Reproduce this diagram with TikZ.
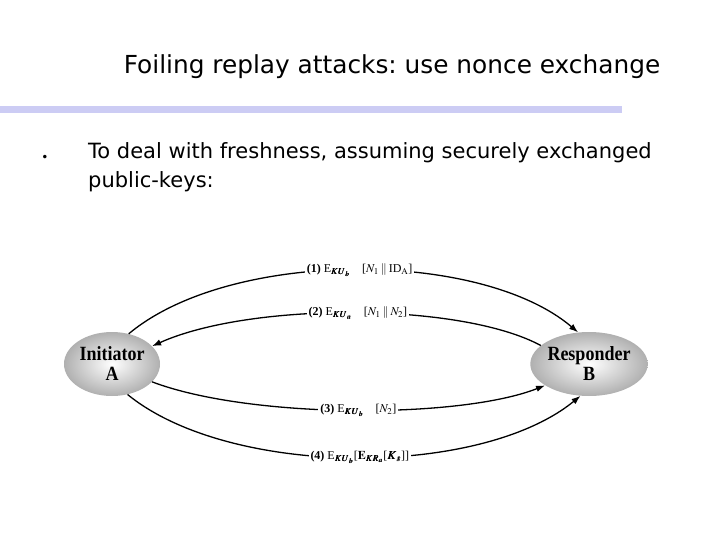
\documentclass[tikz,border=0pt]{standalone}
\usepackage{amsmath}
\usepackage{mathptmx}
\usepackage{bm}
\usepackage{fontspec}
\setmainfont{Liberation Serif}
\newfontfamily\slidefont{DejaVu Sans}
\usetikzlibrary{arrows.meta,shapes.geometric,calc}
\definecolor{barcol}{RGB}{204,204,244}
\frenchspacing
\tikzset{
  party/.style={ellipse, minimum width=96pt, minimum height=64pt, inner sep=0pt,
    shading=radial, inner color=white, outer color=gray!62, align=center,
    font=\fontsize{18}{22}\selectfont\bfseries},
  msg/.style={line width=1.3pt, -{Latex[length=9pt,width=6.5pt]}},
  lab/.style={fill=white, inner sep=2pt, font=\fontsize{12}{13}\selectfont},
  body/.style={font=\slidefont\fontsize{21}{29}\selectfont, anchor=base west, inner sep=0pt}
}
\begin{document}
\begin{tikzpicture}[x=1pt,y=-1pt]
\useasboundingbox (0,0) rectangle (720,540);
\node[font=\slidefont\fontsize{24.8}{28}\selectfont, anchor=center] (title) at (392,67) {Foiling replay attacks: use nonce exchange};
\fill[barcol] (0,106) rectangle (622,113);
\node[font=\slidefont\fontsize{12}{12}\selectfont] (bul) at (45,158) {•};
\node[body] (txt1) at (88,159) {To deal with freshness, assuming securely exchanged};
\node[body] (txt2) at (88,188) {public-keys:};
\node[party] (A) at (112,364) {\raisebox{-5pt}{\scalebox{1}[1.12]{Initiator}}\\\raisebox{-3pt}{\scalebox{1}[1.12]{A}}};
\node[party] (B) at (589,364) {\raisebox{-5pt}{\scalebox{1}[1.12]{Responder}}\\\raisebox{-3pt}{\scalebox{1}[1.12]{B}}};
\draw[msg] (A.61) .. controls (230,249) and (480,249) .. node[lab,xshift=5pt] {\textbf{(1)} E$_{\bm{KU_b}}$\quad[$N_1$\,$\|$\,ID$_{\mathrm{A}}$]} (B.109);
\draw[msg] (B.159) .. controls (460,302) and (250,302) .. node[lab,xshift=5pt] {\textbf{(2)} E$_{\bm{KU_a}}$\quad[$N_1$\,$\|$\,$N_2$]} (A.24);
\draw[msg] (A.-24) .. controls (250,419) and (460,419) .. node[lab,xshift=5pt] {\textbf{(3)} E$_{\bm{KU_b}}$\quad[$N_2$]} (B.-154);
\draw[msg] (A.-63) .. controls (230,478) and (480,478) .. node[lab,xshift=5pt] {\textbf{(4)} E$_{\bm{KU_b}}$[$\mathbf{E}_{\bm{KR_a}}$[$\bm{K_s}$]]} (B.-105);
\end{tikzpicture}
\end{document}
